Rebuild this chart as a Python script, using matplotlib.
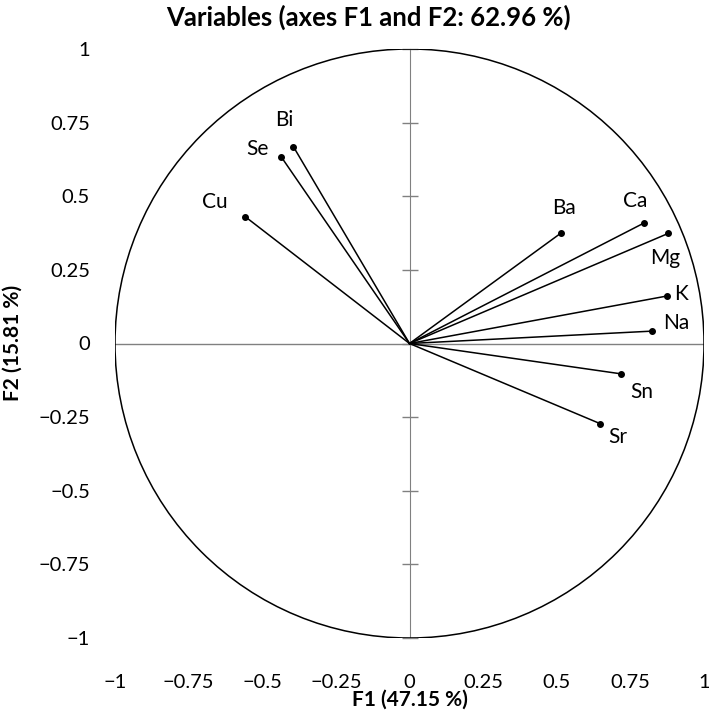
import numpy as np
import matplotlib.pyplot as plt
from matplotlib.patches import Circle

plt.rcParams['font.family'] = ['Lato', 'DejaVu Sans']

# Coordenadas de las variables sobre F1 y F2
variables = ['Bi', 'Se', 'Cu', 'Ba', 'Ca', 'Mg', 'K', 'Na', 'Sn', 'Sr']
f1 = [-0.394, -0.435, -0.557, 0.513, 0.796, 0.879, 0.873, 0.823, 0.718, 0.647]
f2 = [0.668, 0.633, 0.430, 0.374, 0.409, 0.374, 0.161, 0.042, -0.103, -0.272]
ticks = [-1, -0.75, -0.5, -0.25, 0, 0.25, 0.5, 0.75, 1]
tick_labels = ['\u22121', '\u22120.75', '\u22120.5', '\u22120.25', '0', '0.25', '0.5', '0.75', '1']

# desplazamiento de cada etiqueta (puntos)
offsets = {'Bi': (-6.5, 19), 'Se': (-17, 6), 'Cu': (-22, 11), 'Ba': (2.5, 18),
           'Ca': (-6, 16), 'Mg': (-2, -18), 'K': (10.5, 1.5), 'Na': (17.5, 6),
           'Sn': (15, -13), 'Sr': (13, -10)}

fig = plt.figure(figsize=(7.09, 7.13), dpi=100)
ax = fig.add_axes([115 / 709, 75 / 713, 589 / 709, 589 / 713])
ax.set_xlim(-1, 1)
ax.set_ylim(-1, 1)
for s in ax.spines.values():
    s.set_visible(False)

ax.axhline(0, color='#808080', lw=1.0, zorder=1)
ax.add_patch(Circle((0, 0), 1, fill=False, color='black', lw=1.1, zorder=2))

for name, x, y in zip(variables, f1, f2):
    ax.plot([0, x], [0, y], color='black', lw=1.1, zorder=3)
    ax.plot(x, y, 'o', color='black', ms=4, zorder=4)
    ax.annotate(name, (x, y), xytext=offsets[name], textcoords='offset points',
                ha='center', va='center', fontsize=15)

ax.set_xticks(ticks)
ax.set_xticklabels(tick_labels)
ax.set_yticks(ticks)
ax.set_yticklabels(tick_labels)
ax.tick_params(axis='x', length=0, pad=26, labelsize=14.5)
ax.tick_params(axis='y', length=0, pad=18, labelsize=14.5)

# eje vertical central con marcas
sec = ax.secondary_yaxis(0.5)
sec.set_yticks(ticks)
sec.set_yticklabels([])
sec.spines['right'].set_color('#808080')
sec.spines['left'].set_color('#808080')
sec.tick_params(axis='y', direction='inout', length=11, color='#808080', width=1)

fig.text(410 / 709, 1 - 700 / 713, 'F1 (47.15 %)', ha='center', va='center',
         fontsize=15, fontweight='bold')
fig.text(13 / 709, 1 - 343 / 713, 'F2 (15.81 %)', ha='center', va='center',
         rotation=90, fontsize=15, fontweight='bold')
fig.text(368 / 709, 1 - 17 / 713, 'Variables (axes F1 and F2: 62.96 %)',
         ha='center', va='center', fontsize=18.5, fontweight='bold')

plt.savefig('out.png', dpi=100)
